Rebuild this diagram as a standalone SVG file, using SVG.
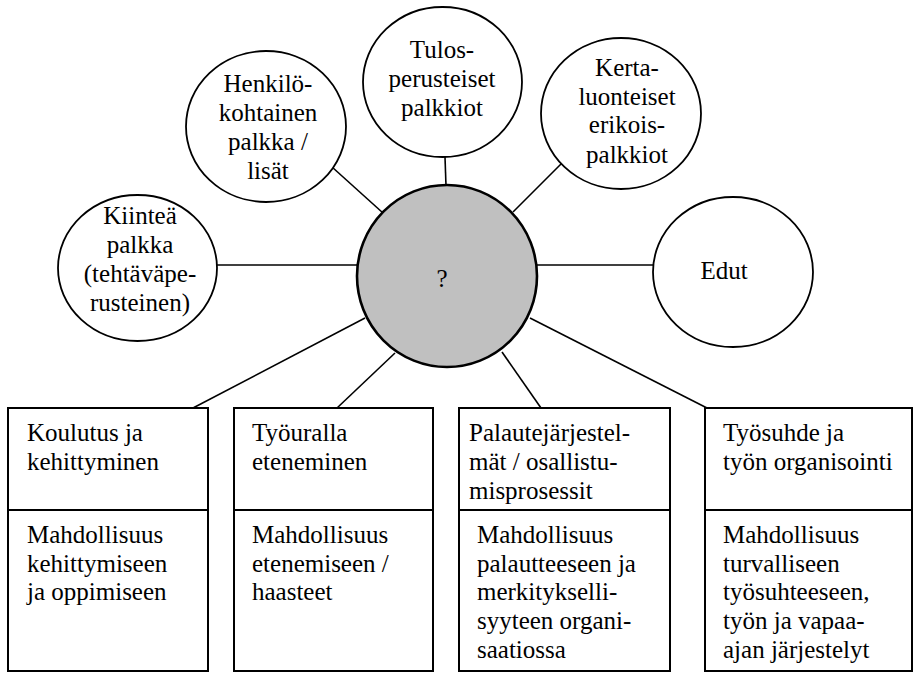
<svg xmlns="http://www.w3.org/2000/svg" width="914" height="673" viewBox="0 0 914 673">
  <style>
    .c { text-anchor: middle; }
    .bubble { fill: #fff; stroke: #000; stroke-width: 1.8; }
    .hub { fill: #c0c0c0; stroke: #000; stroke-width: 2.6; }
    .box { fill: #fff; stroke: #000; stroke-width: 2; }
    .link { stroke: #000; stroke-width: 1.6; fill: none; }
  </style>

  <!-- connectors -->
  <g id="connectors">
    <line class="link" x1="217" y1="265" x2="358" y2="265"/>
    <line class="link" x1="332" y1="167" x2="383" y2="213"/>
    <line class="link" x1="445" y1="157" x2="446" y2="186"/>
    <line class="link" x1="562" y1="163" x2="513" y2="212"/>
    <line class="link" x1="537" y1="265" x2="653" y2="265"/>
    <line class="link" x1="365" y1="318" x2="193" y2="408"/>
    <line class="link" x1="395" y1="353" x2="337" y2="408"/>
    <line class="link" x1="502" y1="352" x2="541" y2="408"/>
    <line class="link" x1="530" y1="318" x2="707" y2="408"/>
  </g>

  <g font-family="Liberation Serif, Times New Roman, serif" font-size="25" fill="#000">
  <!-- central hub -->
  <g id="hub">
    <ellipse class="hub" cx="447" cy="276" rx="90" ry="91"/>
    <text class="c" x="442" y="287">?</text>
  </g>

  <!-- reward bubbles -->
  <g id="kiintea">
    <ellipse class="bubble" cx="137.5" cy="268" rx="79.5" ry="73"/>
    <text class="c" x="140" y="224">Kiinteä</text>
    <text class="c" x="140" y="253">palkka</text>
    <text class="c" x="140" y="282">(tehtäväpe-</text>
    <text class="c" x="140" y="311">rusteinen)</text>
  </g>
  <g id="henkilokohtainen">
    <ellipse class="bubble" cx="266" cy="126.5" rx="80" ry="75.5"/>
    <text class="c" x="268" y="92">Henkilö-</text>
    <text class="c" x="268" y="121">kohtainen</text>
    <text class="c" x="268" y="150">palkka /</text>
    <text class="c" x="268" y="179">lisät</text>
  </g>
  <g id="tulosperusteiset">
    <ellipse class="bubble" cx="442.5" cy="82" rx="79.5" ry="75"/>
    <text class="c" x="442" y="58">Tulos-</text>
    <text class="c" x="442" y="87">perusteiset</text>
    <text class="c" x="442" y="116">palkkiot</text>
  </g>
  <g id="kertaluonteiset">
    <ellipse class="bubble" cx="621" cy="113.5" rx="80" ry="75.5"/>
    <text class="c" x="627" y="76">Kerta-</text>
    <text class="c" x="627" y="105">luonteiset</text>
    <text class="c" x="627" y="133">erikois-</text>
    <text class="c" x="627" y="163">palkkiot</text>
  </g>
  <g id="edut">
    <ellipse class="bubble" cx="733" cy="272" rx="80" ry="75"/>
    <text class="c" x="724" y="279">Edut</text>
  </g>

  <!-- lower boxes -->
  <g id="koulutus">
    <rect class="box" x="8" y="408" width="200" height="263"/>
    <line class="box" x1="8" y1="510" x2="208" y2="510"/>
    <text x="27" y="441">Koulutus ja</text>
    <text x="27" y="470">kehittyminen</text>
    <text x="27" y="543">Mahdollisuus</text>
    <text x="27" y="572">kehittymiseen</text>
    <text x="27" y="600">ja oppimiseen</text>
  </g>
  <g id="tyoura">
    <rect class="box" x="234" y="408" width="199" height="263"/>
    <line class="box" x1="234" y1="510" x2="433" y2="510"/>
    <text x="252" y="441">Työuralla</text>
    <text x="252" y="470">eteneminen</text>
    <text x="252" y="543">Mahdollisuus</text>
    <text x="252" y="572">etenemiseen /</text>
    <text x="252" y="600">haasteet</text>
  </g>
  <g id="palaute">
    <rect class="box" x="459" y="408" width="211" height="263"/>
    <line class="box" x1="459" y1="510" x2="670" y2="510"/>
    <text x="469" y="441">Palautejärjestel-</text>
    <text x="469" y="470">mät / osallistu-</text>
    <text x="469" y="499">misprosessit</text>
    <text x="477" y="543">Mahdollisuus</text>
    <text x="477" y="572">palautteeseen ja</text>
    <text x="477" y="600">merkitykselli-</text>
    <text x="477" y="629">syyteen organi-</text>
    <text x="477" y="658">saatiossa</text>
  </g>
  <g id="tyosuhde">
    <rect class="box" x="705" y="408" width="207" height="263"/>
    <line class="box" x1="705" y1="510" x2="912" y2="510"/>
    <text x="723" y="441">Työsuhde ja</text>
    <text x="723" y="470">työn organisointi</text>
    <text x="723" y="543">Mahdollisuus</text>
    <text x="723" y="572">turvalliseen</text>
    <text x="723" y="600">työsuhteeseen,</text>
    <text x="723" y="629">työn ja vapaa-</text>
    <text x="723" y="658">ajan järjestelyt</text>
  </g>
  </g>
</svg>
